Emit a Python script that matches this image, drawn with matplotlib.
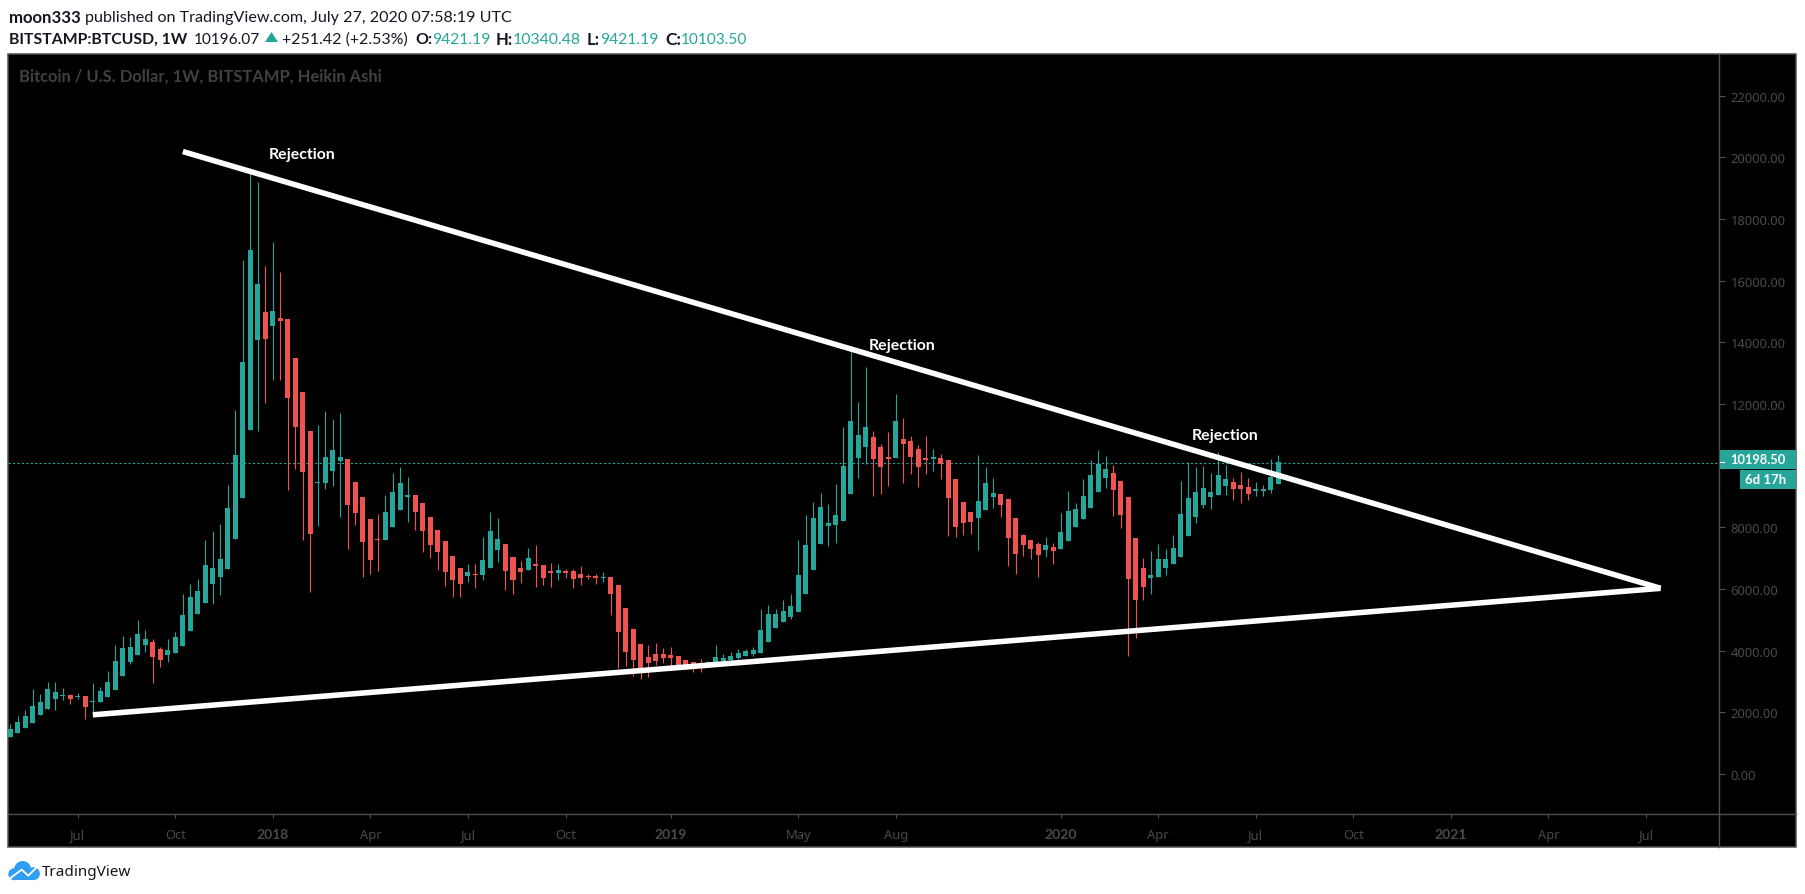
import matplotlib
matplotlib.use("Agg")
import matplotlib.pyplot as plt
from matplotlib.patches import Rectangle, Circle, Polygon

# ---- weekly Heikin Ashi candles (x = week number since 2017-05-01) ----
highs = [1611,1867,2060,2752,2586,2983,2983,2791,2598,2624,
 2534,2945,2816,3342,4176,4471,4445,4997,4676,4368,
 4112,4368,4599,5830,6176,6317,7574,7881,8112,9368,
 11805,16666,19667,19218,16474,17244,16295,14757,13487,12384,
 11127,11320,11769,11499,11705,10215,9472,8983,8266,8433,
 9035,9753,9958,9625,9048,8792,8330,7907,7561,7070,
 6681,6810,6810,7686,8497,8302,7459,7037,6908,7329,
 7426,6778,6843,6810,6648,6648,6745,6486,6486,6551,
 6389,6129,5383,4702,4216,4183,4248,4086,4119,3827,
 3697,3632,3729,3665,4183,3892,3956,4054,4054,4119,
 5351,5481,5351,5643,5837,7589,8399,8821,9113,8756,
 9405,11253,13685,12064,13199,11123,10702,11091,12323,11545,
 10961,10669,10961,10540,10378,10183,9567,8821,8497,10345,
 9956,9599,9080,8918,8302,7783,7589,7524,7686,7491,
 8464,9178,8789,9567,10183,10507,10313,10021,9502,8983,
 7654,7005,7232,7459,7297,7751,9502,10107,9956,9988,
 9761,10442,10021,9599,9794,9599,9470,9372,10215,10345]
body_tops = [1457,1688,1880,2201,2329,2752,2662,2560,2560,2521,
 2534,2367,2688,2983,3663,4086,4125,4535,4381,4278,
 4048,4009,4445,5150,5740,5932,6779,6676,6971,8625,
 10343,13357,17000,15898,14988,15014,14795,14757,13487,12384,
 11127,9472,10279,10510,10279,10215,9472,8983,8266,7625,
 8497,9151,9433,9048,9048,8792,8330,7907,7561,7070,
 6681,6551,6486,6940,7881,7621,7459,7037,6681,7005,
 6810,6778,6583,6616,6583,6583,6486,6421,6421,6389,
 6389,6129,5383,4702,4216,3794,3892,3892,3859,3827,
 3697,3632,3567,3621,3794,3762,3827,3924,3989,4021,
 4670,5189,5189,5286,5448,6454,7426,8302,8659,8140,
 8399,9988,11448,10994,11253,10929,10605,10280,11448,10864,
 10799,10540,10248,10280,10248,10183,9567,8821,8497,8853,
 9437,9113,9080,8918,8302,7751,7589,7459,7426,7362,
 7848,8529,8594,9016,9697,10053,9891,9761,9502,8983,
 7654,6681,6454,6972,6972,7329,8432,8951,9145,9275,
 9145,9697,9567,9470,9372,9308,9243,9243,9632,10107]
body_bottoms = [1200,1329,1495,1649,1919,2111,2432,2534,2432,2496,
 2175,2342,2329,2496,2727,3176,3637,3855,4189,3791,
 3701,3855,3919,4150,4637,5189,5548,6163,6394,6650,
 7624,8945,11153,14077,14103,14526,14693,12192,11256,9792,
 7779,9433,9433,9830,10151,8727,8459,7522,6945,7600,
 7587,8010,8561,8997,8497,7882,7433,7202,6548,6291,
 6162,6421,6464,6454,6681,7264,6583,6291,6551,6616,
 6745,6356,6518,6518,6518,6324,6356,6389,6356,6367,
 5837,4605,3956,3697,3405,3600,3665,3762,3762,3513,
 3513,3513,3513,3567,3567,3654,3697,3762,3827,3892,
 3924,4281,4735,4929,5092,5254,5837,6616,7459,8043,
 8075,8205,9080,10248,10605,10215,9956,10215,10248,10702,
 10280,9956,10194,10215,10053,8951,8010,8140,8172,8302,
 8562,8983,8724,7654,7135,7426,7297,7102,7264,7232,
 7297,7556,8010,8270,8626,9145,9599,9210,8399,6324,
 5643,6064,6356,6389,6681,6810,7037,7718,8335,8724,
 8983,9048,9340,9243,9243,9080,9178,9178,9210,9405]
lows = [1200,1329,1495,1649,1919,2111,2073,2406,2265,2432,
 1790,1996,2329,2496,2727,3176,3573,3855,3958,2945,
 3470,3637,3919,4150,4637,5189,5548,5509,5804,6650,
 7624,8945,11153,11127,12038,12781,12781,9215,9907,7587,
 5907,8048,9241,9343,8330,7292,8074,6394,6484,6586,
 7587,8010,8561,8176,7907,7202,7010,6612,6100,5740,
 5740,6227,6032,6291,6681,6875,5967,5837,6194,6616,
 6064,6129,6064,6291,6356,6032,6129,6324,6162,6227,
 5156,3438,3502,3178,3081,3146,3535,3600,3502,3405,
 3405,3308,3308,3513,3513,3621,3654,3729,3827,3827,
 3924,4281,4735,4929,5027,5254,5837,6616,7459,7394,
 7491,8205,9080,9599,10053,9016,9080,9340,10248,9437,
 9729,9308,9729,9826,9567,7718,7686,7751,7783,7264,
 8562,8626,8335,6745,6486,7070,6972,6389,7037,6810,
 7297,7556,8010,8270,8626,9145,9275,8367,7978,3827,
 4410,5643,5837,6389,6454,6810,7037,7718,8140,8626,
 8594,9048,9048,8886,8789,8886,9016,9016,9113,9405]
directions = ("GGGGGGGGRG" "RGGGGGGGGR" "RGGGGGGGGG" "GGGGRGRRRR" "RGGGGRRRRR"
              "GGGGRRRRRR" "RGRGGGRRRG" "RRRGRRRRRG" "RRRRRRRRRR" "RRRGGGGGGG"
              "GGGGGGGGGG" "GGGGGRRRGR" "RRRGRRRRRG" "GGRRRRRRGR" "GGGGGGGRRR"
              "RRGGGGGGGG" "GGGRRRGGGG")

# ---- trend lines: week numbers and prices ----
upper_weeks = [23.0, 219.95]
upper_prices = [20190, 6023]
lower_weeks = [11.0, 219.95]
lower_prices = [1920, 6023]

# ---- notes ----
note_weeks = [38.85, 118.85, 161.95]
note_prices = [20110, 13915, 10996]
note_text = "Rejection"
last_close = 10103.5

# ---- axes labels ----
price_ticks = [0, 2000, 4000, 6000, 8000, 10000, 12000, 14000, 16000, 18000, 20000, 22000]
price_labels = ["0.00", "2000.00", "4000.00", "6000.00", "8000.00", "", "12000.00", "14000.00",
                "16000.00", "18000.00", "20000.00", "22000.00"]
time_ticks = [9, 22, 35, 48, 61, 74, 88, 105, 118, 140, 153, 166, 179, 192, 205, 218]
time_labels = ["Jul", "Oct", "2018", "Apr", "Jul", "Oct", "2019", "May", "Aug", "2020",
               "Apr", "Jul", "Oct", "2021", "Apr", "Jul"]

UP, DOWN = "#26a69a", "#ef5350"
GREY = "#4a4a4a"
AXIS = "#505050"
W, H = 1805, 895
AX_FONT = "Noto Sans"
BOLD_FONT = "Lato"
HD_FONT = "Lato"

fig = plt.figure(figsize=(W / 100, H / 100), dpi=100, facecolor="white")
L, R, T, B = 8.0, 1719.3, 55.0, 815.3

# backdrop frame
bg = fig.add_axes([0, 0, 1, 1], zorder=0)
bg.set_xlim(0, W); bg.set_ylim(H, 0); bg.axis("off")
bg.add_patch(Rectangle((8, 55), 1788.3, 793.3, fc="black", ec=AXIS, lw=1.1))
bg.plot([R, R], [55, 848.3], color=AXIS, lw=1.0)

ax = fig.add_axes([L / W, (H - B) / H, (R - L) / W, (B - T) / H], zorder=1)
ax.set_facecolor("black")
ax.patch.set_alpha(0)
week_px = 7.503
ax.set_xlim((L - 10.3) / week_px, (R - 10.3) / week_px)
ax.set_ylim((775 - B) / 0.03083, (775 - T) / 0.03083)

for i, d in enumerate(directions):
    c = UP if d == "G" else DOWN
    ax.vlines(i, lows[i], highs[i], color=c, lw=0.8, zorder=2)
    ax.bar(i, max(body_tops[i] - body_bottoms[i], 35), bottom=body_bottoms[i], width=0.667,
           color=c, lw=0, zorder=3)

ax.axhline(last_close, color=UP, lw=0.8, ls=(0, (2, 2)), zorder=1)
ax.plot(upper_weeks, upper_prices, color="white", lw=4.0, solid_capstyle="butt", zorder=5)
ax.plot(lower_weeks, lower_prices, color="white", lw=4.0, solid_capstyle="butt", zorder=5)
for nx, ny in zip(note_weeks, note_prices):
    ax.text(nx, ny, note_text, color="white", ha="center", va="center",
            fontsize=11.4, fontweight="bold", family=BOLD_FONT, zorder=6)

for s in ax.spines.values():
    s.set_visible(False)
ax.yaxis.tick_right()
ax.set_yticks(price_ticks)
ax.set_yticklabels(price_labels, family=AX_FONT, fontsize=9.3, color=GREY)
ax.tick_params(axis="y", length=4, width=0.8, color=AXIS, pad=4)
ax.set_xticks(time_ticks)
ax.set_xticklabels(time_labels, family=AX_FONT, fontsize=9.3, color=GREY)
ax.tick_params(axis="x", length=3, width=0.8, color=AXIS, pad=7)
for lab in ax.get_xticklabels():
    if lab.get_text().isdigit():
        lab.set_fontweight("bold")
        lab.set_family(BOLD_FONT)
        lab.set_fontsize(10)
# axis separator
bg.plot([8, 1796.3], [B, B], color=AXIS, lw=1.0)

# overlay with header, badges and logo
ov = fig.add_axes([0, 0, 1, 1], zorder=2)
ov.set_xlim(0, W); ov.set_ylim(H, 0); ov.axis("off"); ov.patch.set_alpha(0)
rend = fig.canvas.get_renderer()

def fit(s, x0, x1, y, color, weight="normal", family=HD_FONT, size=12.0):
    t = ov.text(x0, y, s, color=color, fontweight=weight, family=family, fontsize=size,
                ha="left", va="center")
    ext = t.get_window_extent(rend)
    t.set_fontsize(size * (x1 - x0) / ext.width)
    return t

INK = "#131722"
fit("moon333", 8.7, 80, 18, INK, "bold")
fit("published on TradingView.com, July 27, 2020 07:58:19 UTC", 85, 511, 18, INK)
fit("BITSTAMP:BTCUSD, 1W", 8.7, 187, 39.5, INK, "bold")
fit("10196.07", 194, 260, 39.5, INK)
ov.add_patch(Polygon([(265, 43), (278, 43), (271.5, 33)], fc=UP, ec="none"))
fit("+251.42 (+2.53%)", 282, 408, 39.5, INK)
for lab, xa, xb, val, xc in [("O:", 415, 432, "9421.19", 490), ("H:", 496, 513, "10340.48", 581),
                             ("L:", 587, 600, "9421.19", 658), ("C:", 665, 681, "10103.50", 747)]:
    fit(lab, xa, xb, 39.5, INK, "bold")
    fit(val, xb, xc, 39.5, UP)
fit("Bitcoin / U.S. Dollar, 1W, BITSTAMP, Heikin Ashi", 19, 380, 77, "#404040", "bold")

# last price badges
ov.add_patch(Rectangle((1719.5, 451), 76.5, 19, fc=UP, ec="none"))
ov.add_patch(Rectangle((1740, 471), 56, 19, fc=UP, ec="none"))
ov.plot([1719.5, 1724], [463.3, 463.3], color="white", lw=0.8)
fit("10198.50", 1730.5, 1786, 459.5, "white", "bold")
fit("6d 17h", 1745, 1786, 479.5, "white", "bold")

# TradingView logo
LOGO = "#2e9ef0"
for cx, cy, r in [(14.3, 875.2, 6), (22.7, 870.5, 8.5), (33.5, 874.7, 6.4)]:
    ov.add_patch(Circle((cx, cy), r, fc=LOGO, ec="none"))
ov.add_patch(Rectangle((14.3, 873), 19.2, 8, fc=LOGO, ec="none"))
ov.plot([10, 21.7, 28.3, 36.7], [879.3, 870.7, 876.7, 868.3], color="white", lw=1.3)
fit("TradingView", 42, 131, 872.5, INK, family="Noto Sans")

fig.savefig("out.png", dpi=100, facecolor="white")
